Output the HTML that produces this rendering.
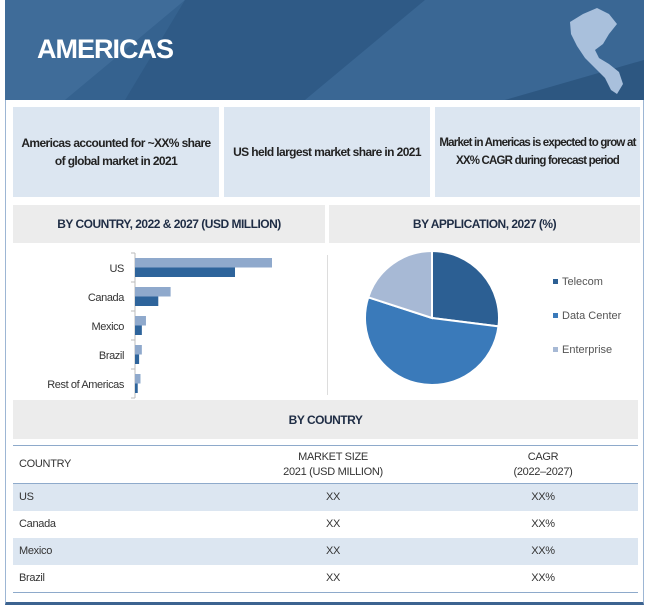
<!DOCTYPE html>
<html><head><meta charset="utf-8"><style>
body{margin:0;width:650px;height:604px;background:#fff;position:relative;overflow:hidden;font-family:"Liberation Sans",sans-serif;color:#1a1a1a}
.a{position:absolute}
.box{background:#dce6f1;display:flex;align-items:center;justify-content:center;text-align:center;font-size:12px;letter-spacing:-0.6px;font-weight:bold;line-height:18px;color:#222;padding:0 2px;box-sizing:border-box}
.sec{background:#ececec;display:flex;align-items:center;justify-content:center;font-size:12px;letter-spacing:-0.5px;font-weight:bold;color:#1f2d45}
.row{position:absolute;left:13px;width:625px;height:27px;font-size:11px;letter-spacing:-0.3px;color:#333}
.row span{position:absolute;top:7px}
</style></head><body>
<div class="a" style="left:5px;top:0;width:637px;height:601px;border:1px solid #9db6d4;border-bottom:3px solid #3c6390"></div>
<svg class="a" style="left:5px;top:0" width="639" height="100">
<rect width="639" height="100" fill="#35628f"/>
<polygon points="0,0 180,0 60,100 0,100" fill="#3f6c99"/>
<polygon points="180,0 420,0 300,100 120,100" fill="#2f5a86"/>
<polygon points="420,0 639,0 639,60 500,100 300,100" fill="#3a6794"/>
<polygon points="500,100 639,60 639,100" fill="#2d5781"/>
<path d="M565,22 L578,14 L592,8 L604,14 L612,24 L604,34 L598,44 L590,50 L594,58 L604,64 L614,72 L618,84 L612,94 L606,90 L600,78 L590,68 L580,58 L572,46 L566,34Z" fill="#a9c0dc"/>
</svg>
<div class="a" style="left:37px;top:34px;font-size:27px;letter-spacing:-1px;font-weight:bold;color:#fff">AMERICAS</div>
<div class="a box" style="left:13px;top:107px;width:206px;height:90px">Americas accounted for ~XX% share of global market in 2021</div>
<div class="a box" style="left:224px;top:107px;width:206px;height:90px">US held largest market share in 2021</div>
<div class="a box" style="left:435px;top:107px;width:205px;height:90px;font-size:11.5px;letter-spacing:-0.8px">Market in Americas is expected to grow at XX% CAGR during forecast period</div>
<div class="a sec" style="left:13px;top:205px;width:312px;height:38px">BY COUNTRY, 2022 &amp; 2027 (USD MILLION)</div>
<div class="a sec" style="left:329px;top:205px;width:311px;height:38px">BY APPLICATION, 2027 (%)</div>
<svg class="a" id="bars" style="left:0;top:245px" width="330" height="155"></svg>
<div class="a" style="left:327px;top:255px;width:1px;height:140px;background:#ddd"></div>
<svg class="a" id="pie" style="left:330px;top:245px" width="320" height="150"></svg>
<div class="a sec" style="left:13px;top:400px;width:625px;height:39px">BY COUNTRY</div>
<div class="a" style="left:13px;top:445px;width:625px;height:1px;background:#8eaacb"></div>
<div class="row" style="top:446px;height:37px">
<span style="left:6px;top:12px">COUNTRY</span>
<span style="left:240px;width:160px;text-align:center;top:4px;line-height:15px">MARKET SIZE<br>2021 (USD MILLION)</span>
<span style="left:450px;width:160px;text-align:center;top:4px;line-height:15px">CAGR<br>(2022–2027)</span></div>
<div class="a" style="left:13px;top:483px;width:625px;height:1px;background:#8eaacb"></div>
<div class="row" style="top:484px;background:#dce6f1"><span style="left:6px">US</span><span style="left:240px;width:160px;text-align:center">XX</span><span style="left:450px;width:160px;text-align:center">XX%</span></div>
<div class="row" style="top:511px"><span style="left:6px">Canada</span><span style="left:240px;width:160px;text-align:center">XX</span><span style="left:450px;width:160px;text-align:center">XX%</span></div>
<div class="row" style="top:538px;background:#dce6f1"><span style="left:6px">Mexico</span><span style="left:240px;width:160px;text-align:center">XX</span><span style="left:450px;width:160px;text-align:center">XX%</span></div>
<div class="row" style="top:565px"><span style="left:6px">Brazil</span><span style="left:240px;width:160px;text-align:center">XX</span><span style="left:450px;width:160px;text-align:center">XX%</span></div>
<div class="a" style="left:13px;top:592px;width:625px;height:1px;background:#8eaacb"></div>
<script>
const categories=["US","Canada","Mexico","Brazil","Rest of Americas"];
const values2027=[100,26,8,5,4];
const values2022=[73,17,5,3,2];
const pieLabels=["Telecom","Data Center","Enterprise"];
const pieValues=[27,53,20];
const NS="http://www.w3.org/2000/svg";
function mk(p,t,a){const e=document.createElementNS(NS,t);for(const k in a)e.setAttribute(k,a[k]);p.appendChild(e);return e;}
const bs=document.getElementById('bars');
const x0=135,xScale=v=>x0+v*(272-x0)/100,bandTop=8,band=29;
const ax=mk(bs,'line',{x1:x0,y1:bandTop,x2:x0,y2:bandTop+band*5,stroke:'#bbb'});


categories.forEach((c,i)=>{
 const y=bandTop+band*i;
 const t=mk(bs,'line',{x1:x0-4,y1:y,x2:x0,y2:y,stroke:'#bbb'});
 
 
 const b1=mk(bs,'rect',{x:x0,y:y+5,width:xScale(values2027[i])-x0,height:9.5,fill:'#8fa9cc'});
 
 
 const b2=mk(bs,'rect',{x:x0,y:y+14.5,width:xScale(values2022[i])-x0,height:9.5,fill:'#2e649b'});
 
 
 const l=mk(bs,'text',{x:124,y:y+19,'text-anchor':'end','font-size':11,'letter-spacing':'-0.4',fill:'#333'});l.textContent=c;
 
 
});
const tl=mk(bs,'line',{x1:x0-4,y1:bandTop+band*5,x2:x0,y2:bandTop+band*5,stroke:'#bbb'});
const ps=document.getElementById('pie');
const cx=102,cy=73,r=67,cols=['#2c5f93','#3a7aba','#a7b9d5'];
const tot=pieValues.reduce((a,b)=>a+b,0);let ang=0;
pieValues.forEach((v,i)=>{
 const a0=ang,a1=ang+v/tot*2*Math.PI;ang=a1;
 const p=(a)=>[cx+r*Math.sin(a),cy-r*Math.cos(a)];
 const [x1,y1]=p(a0),[x2,y2]=p(a1);
 const s=mk(ps,'path',{d:`M${cx},${cy}L${x1},${y1}A${r},${r} 0 ${a1-a0>Math.PI?1:0} 1 ${x2},${y2}Z`,fill:cols[i],stroke:'#fff','stroke-width':2});
 
 
 const ly=38+i*34;
 const m=mk(ps,'rect',{x:223,y:ly-4,width:5,height:5,fill:cols[i]});
 
 
 const t=mk(ps,'text',{x:232,y:ly+2,'font-size':11,fill:'#555'});t.textContent=pieLabels[i];
 
 
});
</script>
</body></html>
